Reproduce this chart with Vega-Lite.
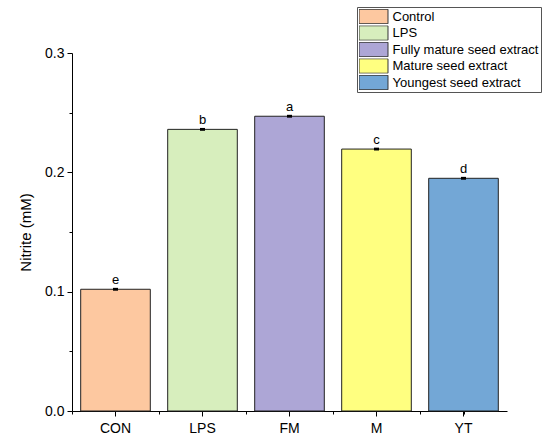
{
  "$schema": "https://vega.github.io/schema/vega-lite/v6.json",
  "width": 435,
  "height": 358,
  "autosize": "none",
  "padding": {"left": 72, "top": 53, "right": 43, "bottom": 33},
  "background": "white",
  "config": {
    "view": {"stroke": null},
    "font": "Liberation Sans",
    "axis": {
      "domainColor": "black",
      "tickColor": "black",
      "labelColor": "black",
      "titleColor": "black",
      "labelFont": "Liberation Sans",
      "titleFont": "Liberation Sans",
      "labelFontSize": 14,
      "titleFontSize": 15,
      "titleFontWeight": "normal",
      "grid": false
    }
  },
  "data": {
    "values": [
      {"cat": "CON", "group": "Control", "value": 0.102, "err": 0.0012, "letter": "e"},
      {"cat": "LPS", "group": "LPS", "value": 0.236, "err": 0.0012, "letter": "b"},
      {"cat": "FM", "group": "Fully mature seed extract", "value": 0.247, "err": 0.0012, "letter": "a"},
      {"cat": "M", "group": "Mature seed extract", "value": 0.2195, "err": 0.0012, "letter": "c"},
      {"cat": "YT", "group": "Youngest seed extract", "value": 0.195, "err": 0.0012, "letter": "d"}
    ]
  },
  "transform": [
    {"calculate": "datum.value - datum.err", "as": "lo"},
    {"calculate": "datum.value + datum.err", "as": "hi"}
  ],
  "layer": [
    {
      "mark": {"type": "bar", "stroke": "#222", "strokeWidth": 1},
      "encoding": {
        "x": {
          "field": "cat", "type": "nominal",
          "sort": ["CON", "LPS", "FM", "M", "YT"],
          "scale": {"paddingInner": 0.2, "paddingOuter": 0.1},
          "axis": {"orient": "bottom", "title": null, "labelAngle": 0, "tickSize": 5, "labelPadding": 5}
        },
        "y": {
          "field": "value", "type": "quantitative",
          "scale": {"domain": [0, 0.3]},
          "axis": {"orient": "left", "title": "Nitrite (mM)", "values": [0, 0.1, 0.2, 0.3], "format": ".1f", "tickSize": 5, "labelPadding": 3, "titlePadding": 11}
        },
        "color": {
          "field": "group", "type": "nominal",
          "sort": ["Control", "LPS", "Fully mature seed extract", "Mature seed extract", "Youngest seed extract"],
          "scale": {
            "domain": ["Control", "LPS", "Fully mature seed extract", "Mature seed extract", "Youngest seed extract"],
            "range": ["#FDC8A0", "#D7EEBD", "#ADA6D6", "#FFFF80", "#73A7D6"]
          },
          "legend": {
            "orient": "none",
            "legendX": 285,
            "legendY": -46,
            "title": null,
            "strokeColor": "#555",
            "fillColor": "white",
            "padding": 2,
            "labelFont": "Liberation Sans",
            "labelFontSize": 13,
            "labelColor": "black",
            "labelOffset": 11,
            "labelLimit": 300,
            "symbolType": "M-2,-1H2V1H-2Z",
            "symbolSize": 210,
            "symbolOffset": 6.5,
            "symbolStrokeColor": "#333",
            "symbolStrokeWidth": 1,
            "symbolOpacity": 1,
            "clipHeight": 15,
            "rowPadding": 1.5
          }
        }
      }
    },
    {
      "mark": {"type": "bar", "size": 5, "color": "black"},
      "encoding": {
        "x": {
          "field": "cat", "type": "nominal",
          "sort": ["CON", "LPS", "FM", "M", "YT"],
          "scale": {"paddingInner": 0.2, "paddingOuter": 0.1},
          "axis": {"orient": "bottom", "title": null, "labels": false, "domain": false, "tickSize": 3, "bandPosition": -0.125}
        },
        "y": {
          "field": "lo", "type": "quantitative",
          "scale": {"domain": [0, 0.3]},
          "axis": {"orient": "left", "title": null, "labels": false, "domain": false, "values": [0.05, 0.15, 0.25], "tickSize": 3}
        },
        "y2": {"field": "hi"}
      }
    },
    {
      "mark": {"type": "text", "baseline": "bottom", "fontSize": 13, "dy": -1, "color": "black", "font": "Liberation Sans"},
      "encoding": {
        "x": {
          "field": "cat", "type": "nominal",
          "sort": ["CON", "LPS", "FM", "M", "YT"],
          "scale": {"paddingInner": 0.2, "paddingOuter": 0.1},
          "axis": {"orient": "bottom", "title": null, "labels": false, "domain": false, "tickSize": 3, "values": ["YT"], "bandPosition": 1.125}
        },
        "y": {"field": "hi", "type": "quantitative", "scale": {"domain": [0, 0.3]}, "axis": null},
        "text": {"field": "letter"}
      }
    }
  ],
  "resolve": {
    "scale": {"x": "independent", "y": "independent"},
    "axis": {"x": "independent", "y": "independent"}
  }
}
